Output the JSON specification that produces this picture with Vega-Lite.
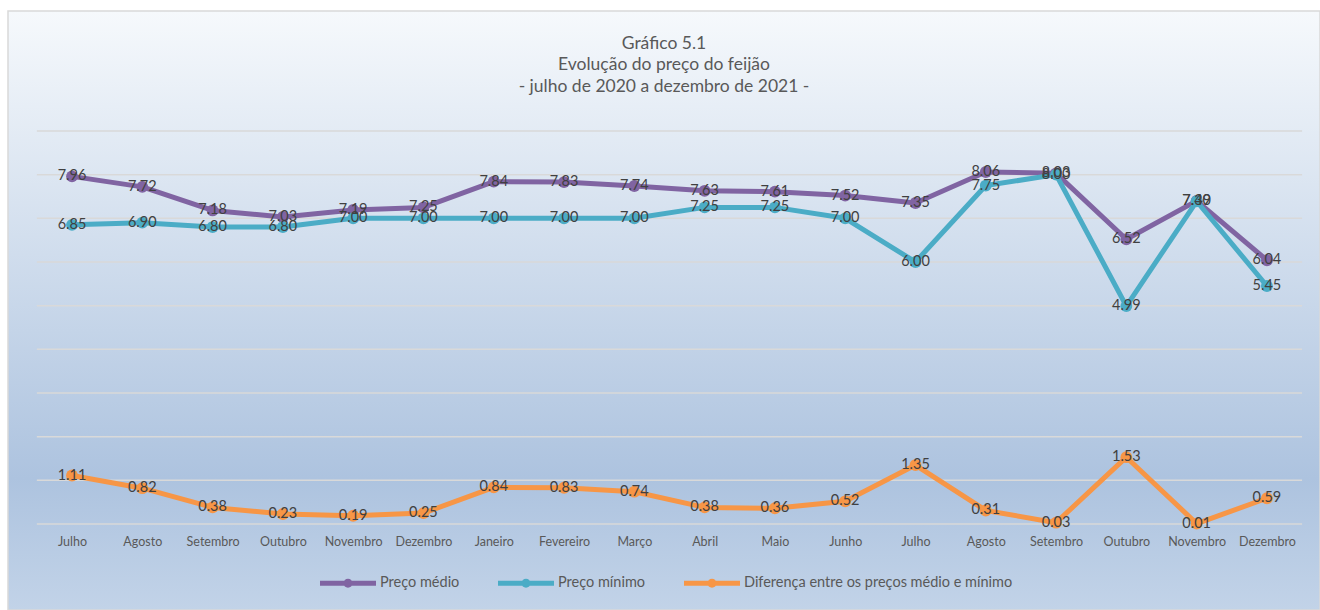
{
  "$schema": "https://vega.github.io/schema/vega-lite/v6.json",
  "autosize": {"type": "none"},
  "width": 1312,
  "height": 599,
  "padding": {"left": 8, "top": 11, "right": 0, "bottom": 0},
  "background": "white",
  "view": {
    "fill": {
      "gradient": "linear", "x1": 0, "y1": 0, "x2": 0, "y2": 1,
      "stops": [
        {"offset": 0, "color": "#f6f9fc"},
        {"offset": 0.78, "color": "#adc3df"},
        {"offset": 1, "color": "#c2d3e8"}
      ]
    },
    "stroke": "#d9d9d9",
    "strokeWidth": 1.5
  },
  "title": {
    "text": ["Gráfico 5.1", "Evolução do preço do feijão", "- julho de 2020 a dezembro de 2021 -"],
    "anchor": "middle",
    "frame": "group",
    "orient": "top",
    "baseline": "top",
    "offset": -84,
    "font": "Lato",
    "fontSize": 17.5,
    "fontWeight": "normal",
    "color": "#595959",
    "lineHeight": 21.5
  },
  "datasets": {
    "grade": [{"g": 0}, {"g": 1}, {"g": 2}, {"g": 3}, {"g": 4}, {"g": 5}, {"g": 6}, {"g": 7}, {"g": 8}, {"g": 9}],
    "precos": [
      {"i": 0, "serie": "Preço médio", "valor": 7.96},
      {"i": 1, "serie": "Preço médio", "valor": 7.72},
      {"i": 2, "serie": "Preço médio", "valor": 7.18},
      {"i": 3, "serie": "Preço médio", "valor": 7.03},
      {"i": 4, "serie": "Preço médio", "valor": 7.19},
      {"i": 5, "serie": "Preço médio", "valor": 7.25},
      {"i": 6, "serie": "Preço médio", "valor": 7.84},
      {"i": 7, "serie": "Preço médio", "valor": 7.83},
      {"i": 8, "serie": "Preço médio", "valor": 7.74},
      {"i": 9, "serie": "Preço médio", "valor": 7.63},
      {"i": 10, "serie": "Preço médio", "valor": 7.61},
      {"i": 11, "serie": "Preço médio", "valor": 7.52},
      {"i": 12, "serie": "Preço médio", "valor": 7.35},
      {"i": 13, "serie": "Preço médio", "valor": 8.06},
      {"i": 14, "serie": "Preço médio", "valor": 8.03},
      {"i": 15, "serie": "Preço médio", "valor": 6.52},
      {"i": 16, "serie": "Preço médio", "valor": 7.40},
      {"i": 17, "serie": "Preço médio", "valor": 6.04},
      {"i": 0, "serie": "Preço mínimo", "valor": 6.85},
      {"i": 1, "serie": "Preço mínimo", "valor": 6.90},
      {"i": 2, "serie": "Preço mínimo", "valor": 6.80},
      {"i": 3, "serie": "Preço mínimo", "valor": 6.80},
      {"i": 4, "serie": "Preço mínimo", "valor": 7.00},
      {"i": 5, "serie": "Preço mínimo", "valor": 7.00},
      {"i": 6, "serie": "Preço mínimo", "valor": 7.00},
      {"i": 7, "serie": "Preço mínimo", "valor": 7.00},
      {"i": 8, "serie": "Preço mínimo", "valor": 7.00},
      {"i": 9, "serie": "Preço mínimo", "valor": 7.25},
      {"i": 10, "serie": "Preço mínimo", "valor": 7.25},
      {"i": 11, "serie": "Preço mínimo", "valor": 7.00},
      {"i": 12, "serie": "Preço mínimo", "valor": 6.00},
      {"i": 13, "serie": "Preço mínimo", "valor": 7.75},
      {"i": 14, "serie": "Preço mínimo", "valor": 8.00},
      {"i": 15, "serie": "Preço mínimo", "valor": 4.99},
      {"i": 16, "serie": "Preço mínimo", "valor": 7.39},
      {"i": 17, "serie": "Preço mínimo", "valor": 5.45},
      {"i": 0, "serie": "Diferença entre os preços médio e mínimo", "valor": 1.11},
      {"i": 1, "serie": "Diferença entre os preços médio e mínimo", "valor": 0.82},
      {"i": 2, "serie": "Diferença entre os preços médio e mínimo", "valor": 0.38},
      {"i": 3, "serie": "Diferença entre os preços médio e mínimo", "valor": 0.23},
      {"i": 4, "serie": "Diferença entre os preços médio e mínimo", "valor": 0.19},
      {"i": 5, "serie": "Diferença entre os preços médio e mínimo", "valor": 0.25},
      {"i": 6, "serie": "Diferença entre os preços médio e mínimo", "valor": 0.84},
      {"i": 7, "serie": "Diferença entre os preços médio e mínimo", "valor": 0.83},
      {"i": 8, "serie": "Diferença entre os preços médio e mínimo", "valor": 0.74},
      {"i": 9, "serie": "Diferença entre os preços médio e mínimo", "valor": 0.38},
      {"i": 10, "serie": "Diferença entre os preços médio e mínimo", "valor": 0.36},
      {"i": 11, "serie": "Diferença entre os preços médio e mínimo", "valor": 0.52},
      {"i": 12, "serie": "Diferença entre os preços médio e mínimo", "valor": 1.35},
      {"i": 13, "serie": "Diferença entre os preços médio e mínimo", "valor": 0.31},
      {"i": 14, "serie": "Diferença entre os preços médio e mínimo", "valor": 0.03},
      {"i": 15, "serie": "Diferença entre os preços médio e mínimo", "valor": 1.53},
      {"i": 16, "serie": "Diferença entre os preços médio e mínimo", "valor": 0.01},
      {"i": 17, "serie": "Diferença entre os preços médio e mínimo", "valor": 0.59}
    ]
  },
  "layer": [
    {
      "data": {"name": "grade"},
      "mark": {"type": "rule", "color": "#d9d9d9", "strokeWidth": 1.5},
      "encoding": {
        "x": {
          "datum": -0.5, "type": "quantitative",
          "scale": {"domain": [-0.9105, 17.755], "nice": false, "zero": false},
          "axis": {
            "values": [0, 1, 2, 3, 4, 5, 6, 7, 8, 9, 10, 11, 12, 13, 14, 15, 16, 17],
            "labelExpr": "['Julho','Agosto','Setembro','Outubro','Novembro','Dezembro','Janeiro','Fevereiro','Março','Abril','Maio','Junho','Julho','Agosto','Setembro','Outubro','Novembro','Dezembro'][datum.value]",
            "offset": -86,
            "domain": false,
            "ticks": false,
            "grid": false,
            "labelPadding": 11,
            "labelFlush": false,
            "labelOverlap": false,
            "labelFont": "Lato",
            "labelFontSize": 12.5,
            "labelColor": "#595959",
            "title": null
          }
        },
        "x2": {"datum": 17.5},
        "y": {"field": "g", "type": "quantitative", "scale": {"domain": [-1.969, 11.747], "nice": false, "zero": false}, "axis": null}
      }
    },
    {
      "data": {"name": "precos"},
      "encoding": {
        "x": {"field": "i", "type": "quantitative"},
        "y": {"field": "valor", "type": "quantitative", "axis": null}
      },
      "layer": [
        {
          "mark": {"type": "line", "strokeWidth": 5, "strokeJoin": "round", "strokeCap": "round"},
          "encoding": {
            "color": {
              "field": "serie", "type": "nominal",
              "scale": {
                "domain": ["Preço médio", "Preço mínimo", "Diferença entre os preços médio e mínimo"],
                "range": ["#8064a2", "#4bacc6", "#f79646"]
              },
              "legend": {
                "orient": "none",
                "legendX": 312,
                "legendY": 544,
                "direction": "horizontal",
                "title": null,
                "columnPadding": 38,
                "labelOffset": 4,
                "labelLimit": 500,
                "symbolType": "M-1,-0.09H1V0.09H-1Z M0.16,0A0.16,0.16 0 1 1 -0.16,0A0.16,0.16 0 1 1 0.16,0Z",
                "symbolSize": 3136,
                "labelFont": "Lato",
                "labelFontSize": 14.5,
                "labelColor": "#595959",
                "encode": {
                  "symbols": {
                    "update": {
                      "fill": {"scale": "color", "field": "value"},
                      "strokeWidth": {"value": 0}
                    }
                  }
                }
              }
            }
          }
        },
        {
          "mark": {"type": "point", "filled": true, "size": 140, "opacity": 1},
          "encoding": {
            "color": {"field": "serie", "type": "nominal"}
          }
        },
        {
          "mark": {"type": "text", "font": "Lato", "fontSize": 14.5, "color": "#404040", "align": "center", "baseline": "middle"},
          "encoding": {
            "text": {"field": "valor", "type": "quantitative", "format": ".2f"}
          }
        }
      ]
    }
  ]
}
